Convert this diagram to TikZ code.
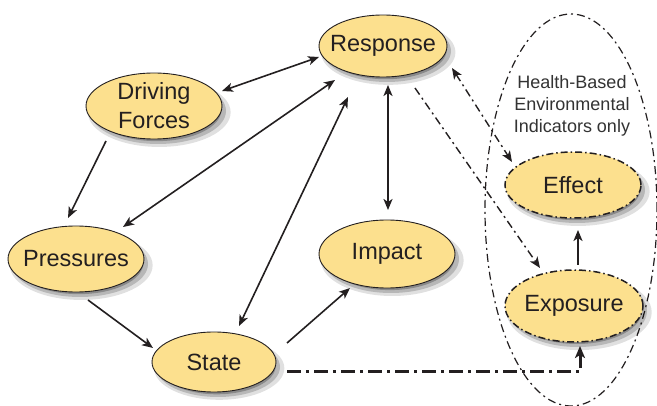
\documentclass[tikz,border=0pt]{standalone}
\usepackage{fontspec}
\setmainfont{Liberation Sans}
\usetikzlibrary{shapes.geometric,arrows.meta,shadows}
\definecolor{fillc}{RGB}{252,224,142}
\definecolor{linec}{RGB}{35,31,32}
\begin{document}
\begin{tikzpicture}[x=1pt,y=-1pt,
  >={Stealth[length=11pt,width=9pt,inset=3pt]},
  sh/.style={drop shadow={shadow xshift=5pt,shadow yshift=-6pt,opacity=0.12,fill=black,shadow scale=1.05},
             drop shadow={shadow xshift=4pt,shadow yshift=-5pt,opacity=0.18,fill=black,shadow scale=1.0},
             drop shadow={shadow xshift=3pt,shadow yshift=-4pt,opacity=0.25,fill=black,shadow scale=0.95}},
  box/.style={ellipse, draw=linec, line width=0.9pt, fill=fillc, inner xsep=-30pt, inner ysep=-15pt, align=center,
              font=\fontsize{23.5}{29}\selectfont, text=linec, sh},
  dbox/.style={box, line width=1.5pt, dash pattern=on 7pt off 3pt on 1.5pt off 3pt},
  arr/.style={draw=linec, line width=1.6pt, ->},
  darr/.style={draw=linec, line width=1.6pt, <->},
  dd/.style={dash pattern=on 8pt off 4pt on 2pt off 4pt},
]
\useasboundingbox (0,0) rectangle (657,406);
\fill[white] (0,0) rectangle (657,406);

% group ellipse
\node[ellipse, draw=linec, line width=1.2pt, dash pattern=on 8pt off 4pt on 2pt off 4pt,
      minimum width=172pt, minimum height=392pt, inner sep=0pt] (grp) at (571,210) {};
\node[align=center, font=\fontsize{18}{22}\selectfont, text=black!80] (lbl) at (572,106)
  {Health-Based\\Environmental\\Indicators only};

\node[box, minimum width=128pt, minimum height=62pt] (resp) at (383,46) {Response};
\node[box, minimum width=136pt, minimum height=66pt] (drv) at (154,106) {Driving\\Forces};
\node[box, minimum width=136pt, minimum height=66pt] (pres) at (76,259) {Pressures};
\node[box, minimum width=124pt, minimum height=60pt] (state) at (214,362) {State};
\node[box, minimum width=136pt, minimum height=68pt] (imp) at (387,254) {Impact};
\node[dbox, minimum width=136pt, minimum height=66pt] (eff) at (573,185) {Effect};
\node[dbox, minimum width=138pt, minimum height=72pt] (expo) at (574,306) {Exposure};

% solid connectors
\draw[darr] ([shift={(68,-15)}]drv.center) -- ([shift={(-64,11)}]resp.center);
\draw[arr] ([shift={(-48,35)}]drv.center) -- ([shift={(-8,-41)}]pres.center);
\draw[darr] ([shift={(47,-32)}]pres.center) -- ([shift={(-48,34)}]resp.center);
\draw[darr] ([shift={(25,-36)}]state.center) -- ([shift={(-35,51)}]resp.center);
\draw[arr] ([shift={(12,41)}]pres.center) -- ([shift={(-61,-14)}]state.center);
\draw[arr] ([shift={(73,-19)}]state.center) -- ([shift={(-37,34)}]imp.center);
\draw[darr, line width=2pt] ([shift={(5,39)}]resp.center) -- ([shift={(1,-44)}]imp.center);
\draw[arr, line width=2pt] ([shift={(4,-41)}]expo.center) -- ([shift={(5,45)}]eff.center);

% dash-dot connectors
\draw[darr, line width=1.4pt, dd] ([shift={(69,22)}]resp.center) -- ([shift={(-61,-23)}]eff.center);
\draw[arr, line width=1.4pt, dd] ([shift={(32,42)}]resp.center) -- ([shift={(-34,-38)}]expo.center);
\draw[draw=linec, line width=3pt, dash pattern=on 14pt off 5pt on 3pt off 5pt,
      -{Stealth[length=12pt,width=10pt,inset=3pt]}]
  ([shift={(73,10)}]state.center) -| ([shift={(6,40)}]expo.center);
\end{tikzpicture}
\end{document}
